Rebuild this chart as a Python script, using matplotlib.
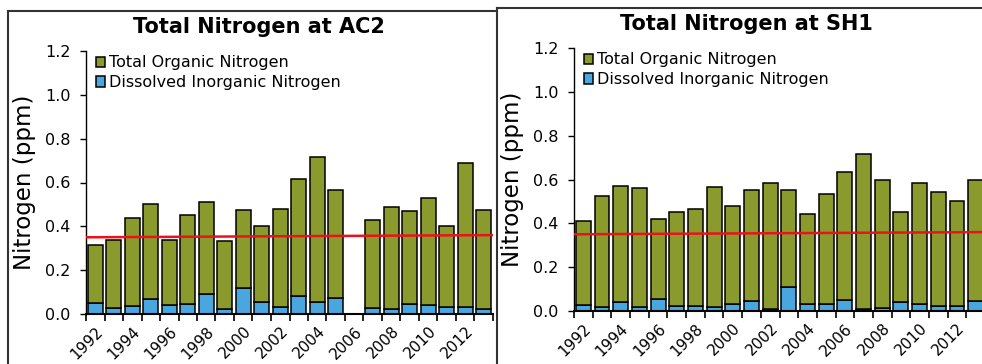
import numpy as np
import matplotlib
matplotlib.use("Agg")
import matplotlib.pyplot as plt
from matplotlib.lines import Line2D

plt.rcParams['font.family'] = ['DejaVu Sans']

years = list(range(1992, 2014))
year_labels = [str(y) if y % 2 == 0 else "" for y in years]

# AC2 (2006 missing)
ac2_din = [0.050, 0.026, 0.038, 0.067, 0.041, 0.046, 0.091, 0.021, 0.117, 0.055, 0.032,
           0.084, 0.053, 0.073, np.nan, 0.027, 0.021, 0.044, 0.040, 0.032, 0.030, 0.024]
ac2_ton = [0.263, 0.310, 0.398, 0.433, 0.296, 0.407, 0.419, 0.310, 0.357, 0.346, 0.445,
           0.531, 0.664, 0.491, np.nan, 0.404, 0.465, 0.428, 0.490, 0.369, 0.658, 0.450]

# SH1
sh1_din = [0.027, 0.017, 0.041, 0.017, 0.053, 0.021, 0.021, 0.020, 0.032, 0.046, 0.011,
           0.108, 0.030, 0.032, 0.049, 0.008, 0.012, 0.043, 0.032, 0.021, 0.023, 0.046]
sh1_ton = [0.383, 0.506, 0.530, 0.545, 0.369, 0.430, 0.444, 0.545, 0.445, 0.504, 0.571,
           0.446, 0.411, 0.500, 0.583, 0.708, 0.587, 0.408, 0.550, 0.523, 0.480, 0.554]

# red reference line, value at first and last year edge
ref_line = [0.35, 0.36]

GREEN = "#8a9a2c"
BLUE = "#4aa6de"


def plot_panel(ax, din, ton):
    x = np.arange(len(years))
    ax.bar(x, din, width=0.8, color=BLUE, edgecolor="black", linewidth=1.1,
           label="Dissolved Inorganic Nitrogen", zorder=2)
    ax.bar(x, ton, width=0.8, bottom=din, color=GREEN, edgecolor="black", linewidth=1.1,
           label="Total Organic Nitrogen", zorder=2)
    ax.plot([-0.5, len(years) - 0.5], ref_line, color="#e8141b", lw=1.8, zorder=3,
            solid_capstyle="butt")

    ax.set_xlim(-0.5, len(years) - 0.5)
    ax.set_ylim(0, 1.2)
    ax.set_yticks(np.arange(0, 1.21, 0.2))
    ax.set_yticklabels(["%.1f" % v for v in np.arange(0, 1.21, 0.2)], fontsize=11.5)
    ax.tick_params(axis="y", length=4, width=1, pad=7)

    ax.set_xticks(x)
    ax.set_xticklabels(year_labels, rotation=45, ha="right", va="top",
                       rotation_mode="anchor", fontsize=11)
    ax.tick_params(axis="x", length=0, pad=7)
    ax.set_xticks(np.arange(-0.5, len(years)), minor=True)
    ax.tick_params(axis="x", which="minor", length=5, width=1.2)

    for side in ["top", "right"]:
        ax.spines[side].set_visible(False)
    ax.spines["left"].set_linewidth(1.0)
    ax.spines["bottom"].set_linewidth(1.5)

    handles, labels = ax.get_legend_handles_labels()
    ax.legend(handles[::-1], labels[::-1], loc="upper left", bbox_to_anchor=(0.0, 1.02),
              frameon=False, fontsize=11.5, handlelength=0.6, handleheight=0.6,
              handletextpad=0.25, labelspacing=0.3, borderaxespad=0.2)

    ax.set_ylabel("Nitrogen (ppm)", fontsize=16.5, labelpad=7)


fig = plt.figure(figsize=(9.82, 3.64), dpi=100)

ax1 = fig.add_axes([86 / 982, 50 / 364, 407 / 982, 263 / 364])
plot_panel(ax1, ac2_din, ac2_ton)
ax2 = fig.add_axes([574 / 982, 53 / 364, 411 / 982, 263 / 364])
plot_panel(ax2, sh1_din, sh1_ton)

fig.text(259 / 982, 1 - 27 / 364, "Total Nitrogen at AC2", ha="center", va="center",
         fontsize=15, fontweight="bold")
fig.text(746 / 982, 1 - 24 / 364, "Total Nitrogen at SH1", ha="center", va="center",
         fontsize=15, fontweight="bold")

# panel frames
frame = dict(color="#333333", lw=1.5, transform=fig.transFigure)
fig.add_artist(Line2D([8 / 982, 8 / 982], [0, 1 - 11 / 364], **frame))
fig.add_artist(Line2D([8 / 982, 497 / 982], [1 - 11 / 364, 1 - 11 / 364], **frame))
fig.add_artist(Line2D([497 / 982, 497 / 982], [0, 1 - 8 / 364], **frame))
fig.add_artist(Line2D([497 / 982, 1], [1 - 8 / 364, 1 - 8 / 364], **frame))

fig.savefig("out.png", dpi=100, facecolor="white")
